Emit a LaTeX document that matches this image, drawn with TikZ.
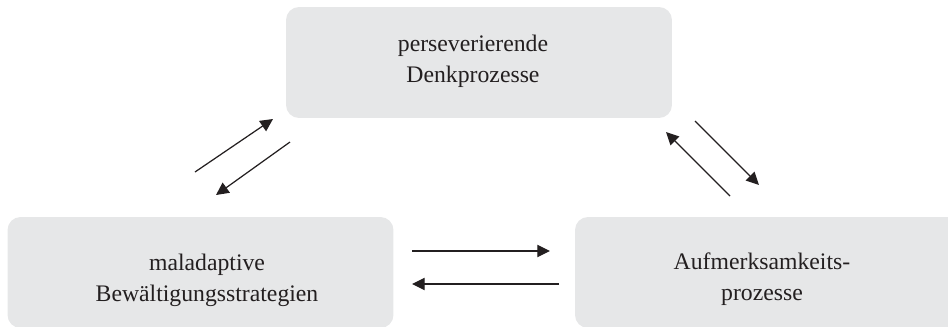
\documentclass[tikz,border=0pt]{standalone}
\usepackage{fontspec}
\setmainfont{Liberation Serif}
\usetikzlibrary{arrows.meta}
\definecolor{boxgray}{HTML}{E6E7E8}
\definecolor{ink}{HTML}{231F20}
\begin{document}
\begin{tikzpicture}[x=0.02cm,y=-0.02cm,
  box/.style={fill=boxgray, draw=none, rounded corners=0.26cm,
    minimum width=7.72cm, minimum height=2.22cm, inner sep=0pt},
  lbl/.style={align=center, font=\fontsize{13.5}{17.8}\selectfont,
    inner sep=0pt, text=ink},
  conn/.style={line width=0.7pt, draw=ink,
    -{Triangle[length=7.2pt,width=7pt]}}]
\useasboundingbox (0,0) rectangle (948,326);
\clip (0,0) rectangle (948,326);
% boxes
\node[box] (denk) at (479,62.5) {};
\node[box] (bew)  at (200.5,272.5) {};
\node[box] (aufm) at (768,272.5) {};
% labels
\node[lbl] (denkt) at (473,61) {perseverierende\\Denkprozesse};
\node[lbl] (bewt)  at (207,280) {maladaptive\\Bewältigungsstrategien};
\node[lbl] (aufmt) at (762,279) {Aufmerksamkeits-\\prozesse};
% connector end points
\coordinate (l1a) at (195,172); \coordinate (l1b) at (273,119);
\coordinate (l2a) at (290,142); \coordinate (l2b) at (216,195);
\coordinate (r1a) at (695,121); \coordinate (r1b) at (759,185);
\coordinate (r2a) at (730,196); \coordinate (r2b) at (666,132);
\coordinate (h1a) at (412,251); \coordinate (h1b) at (550,251);
\coordinate (h2a) at (559,284); \coordinate (h2b) at (412,284);
% connectors
\draw[conn] (l1a) -- (l1b);
\draw[conn] (l2a) -- (l2b);
\draw[conn] (r1a) -- (r1b);
\draw[conn] (r2a) -- (r2b);
\draw[conn] (h1a) -- (h1b);
\draw[conn] (h2a) -- (h2b);
\end{tikzpicture}
\end{document}
